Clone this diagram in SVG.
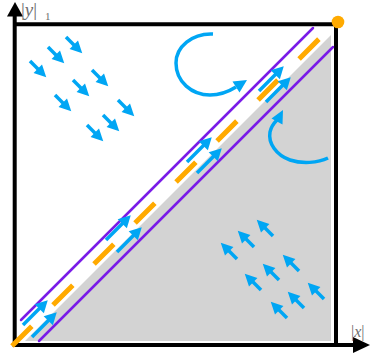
<svg xmlns="http://www.w3.org/2000/svg" xmlns:xlink="http://www.w3.org/1999/xlink" width="371" height="358" viewBox="0 0 371 358">
<style>
.ax{stroke:#000;stroke-width:4;fill:none}
.blue{fill:#00a6f4}
.bs{stroke:#00a6f4;stroke-width:3.5;fill:none}
.pur{stroke:#7a1be8;stroke-width:2.5;fill:none;stroke-linecap:round}
.lbl{font-family:"Liberation Serif",serif;fill:#6e6e6e}
</style>
<defs>
<g id="a"><line x1="0" y1="0" x2="13" y2="0" class="bs"/><polygon points="23,0 11,-6 11,6" class="blue"/></g>
<g id="b"><line x1="0" y1="0" x2="25" y2="0" class="bs"/><polygon points="35,0 23,-6.5 23,6.5" class="blue"/></g>
</defs>
<rect width="371" height="358" fill="#fff"/>
<g id="region">
<polygon points="331,35 331,341 25,341" fill="#d3d3d3"/>
</g>
<g id="frame">
<line x1="14.7" y1="347" x2="14.7" y2="14" class="ax"/>
<polygon points="15,2 7,16.5 23,16.5" fill="#000"/>
<line x1="13" y1="345" x2="354" y2="345" class="ax"/>
<polygon points="370,345 353,337 353,353" fill="#000"/>
<line x1="13" y1="24.3" x2="338" y2="24.3" class="ax" stroke-width="3.5"/>
<line x1="336" y1="22" x2="336" y2="347" class="ax"/>
</g>
<g id="bounds">
<line x1="21" y1="320" x2="313" y2="28" class="pur"/>
<line x1="39" y1="341" x2="333" y2="47" class="pur"/>
</g>
<g id="diagonal">
<line x1="12" y1="346" x2="337" y2="21" stroke="#ffaa00" stroke-width="5" stroke-dasharray="28 30"/>
<circle cx="338" cy="22" r="6.3" fill="#ffaa00"/>
</g>
<g id="flow-upper">
<use href="#a" transform="translate(66,37) rotate(45)"/>
<use href="#a" transform="translate(48,47) rotate(45)"/>
<use href="#a" transform="translate(30,61) rotate(45)"/>
<use href="#a" transform="translate(92,70) rotate(45)"/>
<use href="#a" transform="translate(73,80) rotate(45)"/>
<use href="#a" transform="translate(55,95) rotate(45)"/>
<use href="#a" transform="translate(118,100) rotate(45)"/>
<use href="#a" transform="translate(103,115) rotate(45)"/>
<use href="#a" transform="translate(87,125) rotate(45)"/>
</g>
<g id="flow-lower">
<use href="#a" transform="translate(273,236) rotate(-135)"/>
<use href="#a" transform="translate(254,247) rotate(-135)"/>
<use href="#a" transform="translate(237,259) rotate(-135)"/>
<use href="#a" transform="translate(299,271) rotate(-135)"/>
<use href="#a" transform="translate(279,280) rotate(-135)"/>
<use href="#a" transform="translate(261,290) rotate(-135)"/>
<use href="#a" transform="translate(324,299) rotate(-135)"/>
<use href="#a" transform="translate(304,308) rotate(-135)"/>
<use href="#a" transform="translate(287,318) rotate(-135)"/>
</g>
<g id="flow-diagonal">
<use href="#b" transform="translate(23,325) rotate(-45)"/>
<use href="#b" transform="translate(32,337) rotate(-45)"/>
<use href="#b" transform="translate(106,240) rotate(-45)"/>
<use href="#b" transform="translate(117,252) rotate(-45)"/>
<use href="#b" transform="translate(187,162) rotate(-45)"/>
<use href="#b" transform="translate(197,173) rotate(-45)"/>
<use href="#b" transform="translate(259,91) rotate(-45)"/>
<use href="#b" transform="translate(266,102) rotate(-45)"/>
</g>
<g id="turn-upper">
<path d="M213,34 C192,33 176,47 176,63 C176,82 192,95 210,95 C220,95 228,92 236,87" class="bs"/>
<polygon points="247,80 232.5,81.5 239.5,92.5" class="blue"/>
</g>
<g id="turn-lower">
<path d="M328,158 C318,163 302,164 290,160 C276,155 268,143 270,132 C271,127 274,123 277,120" class="bs"/>
<polygon points="283,110 271.5,118.5 282.5,124.5" class="blue"/>
</g>
<g id="labels">
<text x="21" y="16" class="lbl" font-size="19">|<tspan font-style="italic">y</tspan>|</text>
<text x="45" y="20" class="lbl" font-size="11">1</text>
<text x="351" y="337" class="lbl" font-size="16">|<tspan font-style="italic">x</tspan>|</text>
</g>
</svg>
